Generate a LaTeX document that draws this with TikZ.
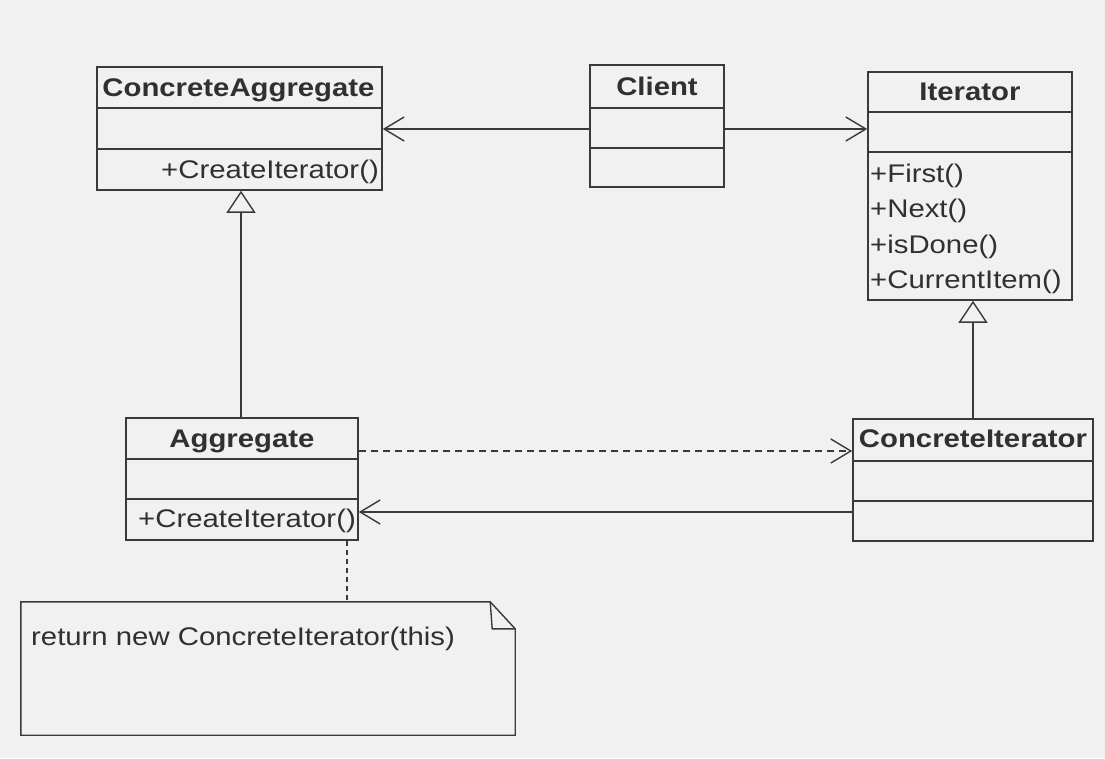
\documentclass[tikz,border=0pt]{standalone}
\usepackage{fontspec}
\setmainfont{Liberation Sans}[FakeStretch=1.15]
\usetikzlibrary{arrows.meta,calc}
\definecolor{paper}{RGB}{241,241,241}
\definecolor{ink}{RGB}{58,58,58}
\definecolor{txt}{RGB}{48,48,48}
\begin{document}
\begin{tikzpicture}[x=1pt,y=-1pt,
  classbox/.style={draw=ink, line width=1.6pt, rectangle, inner sep=0pt},
  title/.style={font=\fontsize{25.5}{29}\selectfont\bfseries, text=txt, anchor=base, inner sep=0pt},
  member/.style={font=\fontsize{25.5}{29}\selectfont, text=txt, inner sep=0pt},
  sep/.style={draw=ink, line width=1.5pt},
  assoc/.style={draw=ink, line width=1.4pt, -{Straight Barb[length=20pt,width=24pt,line width=1.4pt]}},
  dep/.style={assoc, dash pattern=on 7pt off 5pt},
  gen/.style={draw=ink, line width=1.4pt, -{Triangle[open,length=22pt,width=29pt,line width=1.4pt]}},
  notelink/.style={draw=ink, line width=1.4pt, dash pattern=on 5pt off 4pt}
]
\fill[paper] (0,0) rectangle (1105,758);
\useasboundingbox (0,0) rectangle (1105,758);

% class boxes
\node[classbox, minimum width=285pt, minimum height=123pt] (ca) at (239.5,128.5) {};
\node[classbox, minimum width=134pt, minimum height=122pt] (client) at (657,126) {};
\node[classbox, minimum width=204pt, minimum height=228pt] (iter) at (970,186) {};
\node[classbox, minimum width=232pt, minimum height=122pt] (agg) at (242,479) {};
\node[classbox, minimum width=240pt, minimum height=122pt] (citer) at (973,480) {};

% compartments
\draw[sep] (ca.west |- 0,108) -- (ca.east |- 0,108);
\draw[sep] (ca.west |- 0,149) -- (ca.east |- 0,149);
\draw[sep] (client.west |- 0,108) -- (client.east |- 0,108);
\draw[sep] (client.west |- 0,148) -- (client.east |- 0,148);
\draw[sep] (iter.west |- 0,112) -- (iter.east |- 0,112);
\draw[sep] (iter.west |- 0,152) -- (iter.east |- 0,152);
\draw[sep] (agg.west |- 0,459) -- (agg.east |- 0,459);
\draw[sep] (agg.west |- 0,499) -- (agg.east |- 0,499);
\draw[sep] (citer.west |- 0,461) -- (citer.east |- 0,461);
\draw[sep] (citer.west |- 0,501) -- (citer.east |- 0,501);

% titles
\node[title] (catitle) at (238.5,96) {ConcreteAggregate};
\node[title] (clienttitle) at (657,95) {Client};
\node[title] (itertitle) at (970,100) {Iterator};
\node[title] (aggtitle) at (242,447) {Aggregate};
\node[title] (cititle) at (973,447) {ConcreteIterator};

% members
\node[member, anchor=base east] (cacreate) at (379,178) {+CreateIterator()};
\node[member, anchor=base east] (aggcreate) at (356,527) {+CreateIterator()};
\node[member, anchor=base west] (mfirst) at (870,182) {+First()};
\node[member, anchor=base west] (mnext) at (870,217) {+Next()};
\node[member, anchor=base west] (mdone) at (870,253) {+isDone()};
\node[member, anchor=base west] (mcur) at (870,288) {+CurrentItem()};

% note
\node[inner sep=0pt, minimum width=494pt, minimum height=133pt] (note) at (268,668.5) {};
\draw[ink, line width=1.4pt] (note.south west) -- (note.north west)
  -- ($(note.north east)+(-25,0)$) -- ($(note.north east)+(0,27)$)
  -- (note.south east) -- cycle;
\draw[ink, line width=1.4pt] ($(note.north east)+(-25,0)$) -- ($(note.north east)+(-23,27)$) -- ($(note.north east)+(0,27)$);
\node[member, anchor=base west] (notetext) at (31,645) {return new ConcreteIterator(this)};

% connectors
\draw[gen] (agg.north -| 241,0) -- (ca.south -| 241,0);
\draw[gen] (citer.north -| 973,0) -- (iter.south -| 973,0);
\draw[assoc] (client.west |- 0,129) -- (ca.east |- 0,129);
\draw[assoc] (client.east |- 0,129) -- (iter.west |- 0,129);
\draw[dep] (agg.east |- 0,451) -- (citer.west |- 0,451);
\draw[assoc] (citer.west |- 0,512) -- (agg.east |- 0,512);
\draw[notelink] (agg.south -| 347,0) -- (note.north -| 347,0);
\end{tikzpicture}
\end{document}
